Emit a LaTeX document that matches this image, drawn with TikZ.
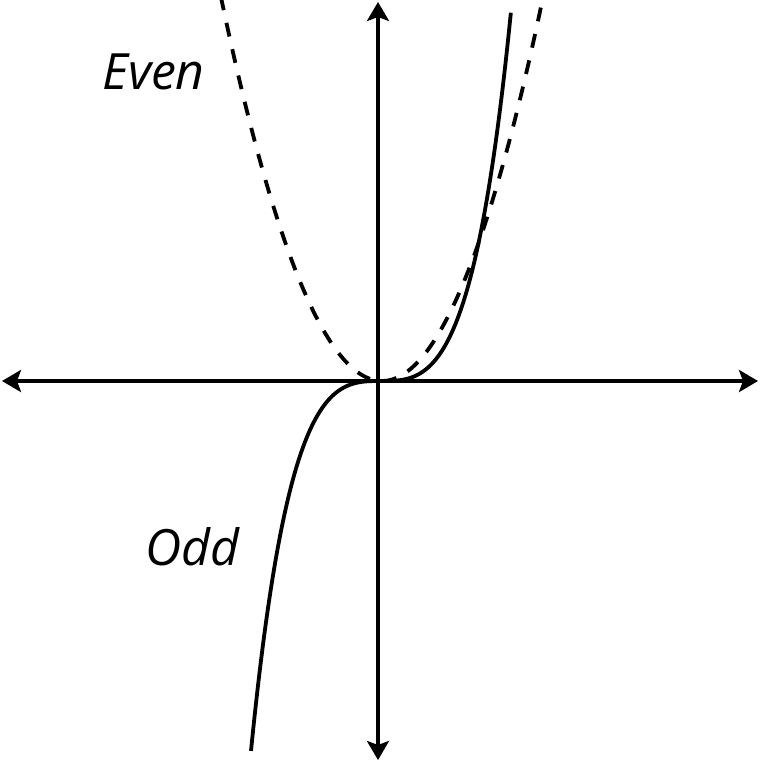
\documentclass[tikz,border=0pt]{standalone}
\usepackage{fontspec}
\setmainfont{Open Sans}
\usetikzlibrary{arrows.meta}
\tikzset{
  tip/.style={Stealth[length=19pt,width=22pt,inset=4pt]},
  axisline/.style={line width=3.6pt,{Stealth[length=19pt,width=22pt,inset=4pt]}-{Stealth[length=19pt,width=22pt,inset=4pt]}},
  oddcurve/.style={line width=3.8pt},
  evencurve/.style={line width=3.8pt,dash pattern=on 14pt off 13pt},
  lbl/.style={font=\fontsize{50}{50}\selectfont\itshape,anchor=base west,inner sep=0pt}
}
\begin{document}
\begin{tikzpicture}[x=1pt,y=-1pt]
\useasboundingbox (0,0) rectangle (760,762);
\coordinate (L) at (2,381);
\coordinate (R) at (758,381);
\coordinate (T) at (378,2);
\coordinate (B) at (378,760);
\draw[axisline] (L) -- (R);
\draw[axisline] (B) -- (T);
% even (dashed): parabola
\draw[evencurve] plot[domain=-1.612:1.612,samples=120,smooth] ({382+100*\x},{381-148*\x*\x});
% odd (solid)
\draw[oddcurve] plot[domain=-1.30:1.30,samples=160,smooth] ({381+100*\x},{381-(123.4*\x*\x*\x+26.6*\x*\x*\x*\x*\x)});
\node[lbl] (even) at (102,90) {Even};
\node[lbl] (odd) at (145,565) {Odd};
\end{tikzpicture}
\end{document}
